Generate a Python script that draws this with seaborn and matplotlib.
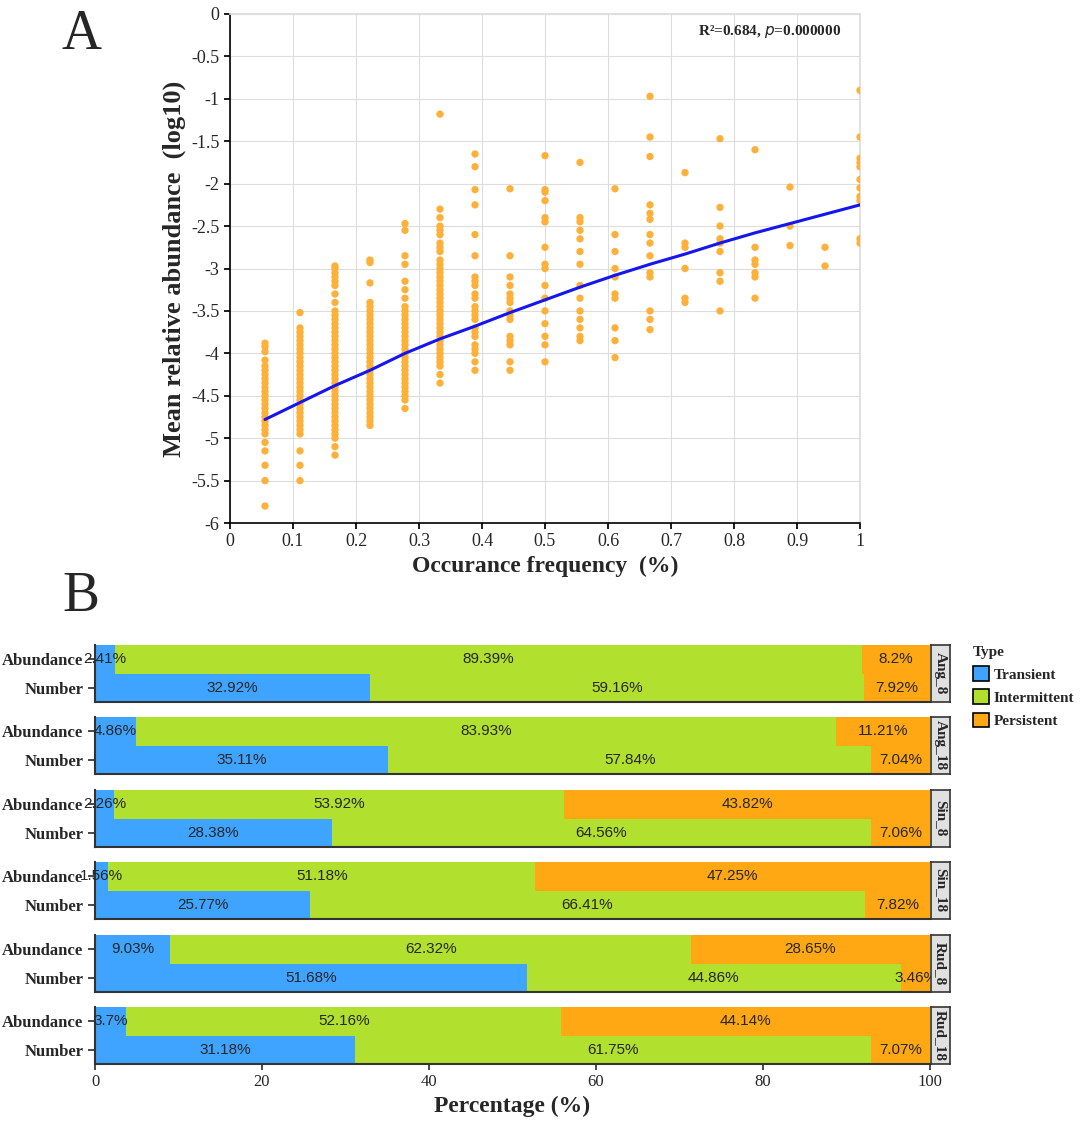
import numpy as np
import pandas as pd
import matplotlib
matplotlib.use("Agg")
import matplotlib.pyplot as plt
import seaborn as sns

# ---------------- Panel A data ----------------
freq_levels = [k / 18 for k in range(1, 19)]
abund_cols = [
    [-3.88,-3.92,-3.98,-4.08,-4.15,-4.2,-4.25,-4.3,-4.35,-4.4,-4.45,-4.5,-4.55,-4.6,-4.65,-4.7,-4.75,-4.8,-4.85,-4.9,-4.95,-5.05,-5.15,-5.32,-5.5,-5.8],
    [-3.52,-3.7,-3.75,-3.8,-3.85,-3.9,-3.95,-4.0,-4.05,-4.1,-4.15,-4.2,-4.25,-4.3,-4.35,-4.4,-4.45,-4.5,-4.55,-4.6,-4.65,-4.7,-4.75,-4.8,-4.85,-4.9,-4.95,-5.15,-5.32,-5.5],
    [-2.97,-3.0,-3.05,-3.1,-3.15,-3.2,-3.3,-3.4,-3.5,-3.55,-3.6,-3.65,-3.7,-3.75,-3.8,-3.85,-3.9,-3.95,-4.0,-4.05,-4.1,-4.15,-4.2,-4.25,-4.3,-4.35,-4.4,-4.45,-4.5,-4.55,-4.6,-4.65,-4.7,-4.75,-4.8,-4.85,-4.9,-4.95,-5.0,-5.1,-5.2],
    [-2.9,-2.93,-3.17,-3.4,-3.45,-3.5,-3.55,-3.6,-3.65,-3.7,-3.75,-3.8,-3.85,-3.9,-3.95,-4.0,-4.05,-4.1,-4.15,-4.2,-4.25,-4.3,-4.35,-4.4,-4.45,-4.5,-4.55,-4.6,-4.65,-4.7,-4.75,-4.8,-4.85],
    [-2.47,-2.55,-2.85,-2.95,-3.15,-3.25,-3.35,-3.45,-3.5,-3.55,-3.6,-3.65,-3.7,-3.75,-3.8,-3.85,-3.9,-3.95,-4.0,-4.05,-4.1,-4.15,-4.2,-4.25,-4.3,-4.35,-4.4,-4.45,-4.5,-4.55,-4.65],
    [-1.18,-2.3,-2.4,-2.5,-2.55,-2.6,-2.7,-2.75,-2.8,-2.9,-2.95,-3.0,-3.05,-3.1,-3.15,-3.2,-3.25,-3.3,-3.35,-3.4,-3.45,-3.5,-3.55,-3.6,-3.65,-3.7,-3.75,-3.8,-3.85,-3.9,-3.95,-4.0,-4.05,-4.1,-4.15,-4.25,-4.35],
    [-1.65,-1.8,-2.07,-2.25,-2.6,-2.85,-3.1,-3.15,-3.2,-3.3,-3.35,-3.45,-3.5,-3.55,-3.6,-3.7,-3.75,-3.8,-3.9,-3.95,-4.0,-4.1,-4.2],
    [-2.06,-2.85,-3.1,-3.2,-3.3,-3.35,-3.4,-3.5,-3.55,-3.6,-3.8,-3.85,-3.9,-4.1,-4.2],
    [-1.67,-2.07,-2.1,-2.2,-2.4,-2.45,-2.75,-2.95,-3.0,-3.2,-3.35,-3.5,-3.65,-3.8,-3.9,-4.1],
    [-1.75,-2.4,-2.45,-2.55,-2.65,-2.8,-2.95,-3.2,-3.35,-3.5,-3.6,-3.7,-3.8,-3.85],
    [-2.06,-2.6,-2.8,-3.0,-3.1,-3.3,-3.35,-3.7,-3.85,-4.05],
    [-0.97,-1.45,-1.68,-2.25,-2.35,-2.42,-2.6,-2.7,-2.85,-3.05,-3.1,-3.5,-3.6,-3.72],
    [-1.87,-2.7,-2.75,-3.0,-3.35,-3.4],
    [-1.47,-2.28,-2.5,-2.65,-2.7,-2.8,-3.05,-3.15,-3.5],
    [-1.6,-2.75,-2.9,-2.95,-3.05,-3.1,-3.35],
    [-2.04,-2.5,-2.73],
    [-2.75,-2.97],
    [-0.9,-1.45,-1.7,-1.75,-1.8,-1.95,-2.05,-2.15,-2.2,-2.65,-2.7],
]
curve_x = freq_levels
curve_y = [-4.78,-4.58,-4.38,-4.2,-4.0,-3.83,-3.68,-3.52,-3.37,-3.22,-3.08,-2.95,-2.83,-2.7,-2.58,-2.47,-2.36,-2.25]

# ---------------- Panel B data ----------------
sites = ["Ang_8", "Ang_18", "Sin_8", "Sin_18", "Rud_8", "Rud_18"]
measures = ["Abundance", "Number"]
transient = [[2.41, 32.92], [4.86, 35.11], [2.26, 28.38], [1.56, 25.77], [9.03, 51.68], [3.7, 31.18]]
intermittent = [[89.39, 59.16], [83.93, 57.84], [53.92, 64.56], [51.18, 66.41], [62.32, 44.86], [52.16, 61.75]]
persistent = [[8.2, 7.92], [11.21, 7.04], [43.82, 7.06], [47.25, 7.82], [28.65, 3.46], [44.14, 7.07]]
types = ["Transient", "Intermittent", "Persistent"]
colors = ["#3FA4FF", "#B2E02E", "#FFA813"]

serif = ["Liberation Serif", "DejaVu Serif"]
sans = ["Liberation Sans", "DejaVu Sans"]

sns.set_theme(style="whitegrid")
plt.rcParams["font.family"] = serif

fig = plt.figure(figsize=(10.82, 11.21), dpi=100)
W, H = 1082, 1121

# Panel A
axA = fig.add_axes([230 / W, 1 - 523 / H, 630 / W, 509 / H])
xs = [f for f, col in zip(freq_levels, abund_cols) for _ in col]
ys = [v for col in abund_cols for v in col]
dfA = pd.DataFrame({"freq": xs, "abund": ys})
sns.scatterplot(data=dfA, x="freq", y="abund", ax=axA, color="#FDB03A",
                s=28, edgecolor="none", zorder=3)
sns.lineplot(x=curve_x, y=curve_y, ax=axA, color="#1515F0", lw=2.2, zorder=4)
axA.set_xlim(0, 1)
axA.set_ylim(-6, 0)
axA.set_xticks(np.arange(0, 1.01, 0.1))
axA.set_xticklabels(["0", "0.1", "0.2", "0.3", "0.4", "0.5", "0.6", "0.7", "0.8", "0.9", "1"])
axA.set_yticks(np.arange(-6, 0.01, 0.5))
axA.set_yticklabels([("%g" % v) if v != 0 else "0" for v in np.arange(-6, 0.01, 0.5)])
axA.tick_params(labelsize=13, length=4, color="black", left=True, bottom=True)
axA.grid(color="#DDDDDD", lw=0.8)
for s in ["top", "right"]:
    axA.spines[s].set_color("#DDDDDD")
for s in ["left", "bottom"]:
    axA.spines[s].set_color("black")
    axA.spines[s].set_linewidth(1.2)
axA.set_xlabel("Occurance frequency  (%)", fontsize=17, fontweight="bold")
axA.set_ylabel("Mean relative abundance  (log10)", fontsize=19, fontweight="bold")
axA.text(0.97, 0.965, r"R²=0.684, $\mathit{p}$=0.000000", transform=axA.transAxes,
         ha="right", va="center", fontsize=11, fontweight="bold")
fig.text(62 / W, 1 - 35 / H, "A", fontsize=40, va="center", ha="left")
fig.text(62 / W, 1 - 597 / H, "B", fontsize=40, va="center", ha="left")

# Panel B
tops = [645, 717, 790, 862, 935, 1007]
hgt = 57
for i, site in enumerate(sites):
    ax = fig.add_axes([95 / W, 1 - (tops[i] + hgt) / H, 835 / W, hgt / H])
    t = np.array(transient[i]); m = np.array(intermittent[i]); p = np.array(persistent[i])
    cum = [t + m + p, t + m, t]
    for c, vals in zip([colors[2], colors[1], colors[0]], cum):
        d = pd.DataFrame({"measure": measures, "val": vals})
        sns.barplot(data=d, x="val", y="measure", order=measures, ax=ax, color=c,
                    width=1.0, orient="h", saturation=1, edgecolor="none", linewidth=0)
    for j in range(2):
        segs = [t[j], m[j], p[j]]
        left = 0
        for v in segs:
            ax.text(left + v / 2, j, "%g%%" % v, ha="center", va="center",
                    fontsize=11, family=sans)
            left += v
    ax.set_xlim(0, 100)
    ax.set_ylim(1.5, -0.5)
    ax.grid(False)
    ax.set_ylabel("")
    ax.set_xlabel("")
    for s in ["top", "right"]:
        ax.spines[s].set_visible(False)
    for s in ["left", "bottom"]:
        ax.spines[s].set_color("#333333")
        ax.spines[s].set_linewidth(1.5)
    ax.tick_params(axis="y", left=True, length=5, color="#333333", labelsize=12)
    for lab in ax.get_yticklabels():
        lab.set_fontweight("bold")
    if i < 5:
        ax.set_xticks([])
    else:
        ax.set_xticks([0, 20, 40, 60, 80, 100])
        ax.tick_params(axis="x", bottom=True, length=4, color="#333333", labelsize=12)
        ax.set_xlabel("Percentage (%)", fontsize=17, fontweight="bold")
    # strip
    sax = fig.add_axes([931 / W, 1 - (tops[i] + hgt) / H, 19 / W, hgt / H])
    sax.set_facecolor("#E0E0E0")
    sax.set_xticks([]); sax.set_yticks([])
    for s in sax.spines.values():
        s.set_visible(True); s.set_color("#333333"); s.set_linewidth(1.2)
    sax.text(0.5, 0.5, site, rotation=-90, ha="center", va="center",
             fontsize=11, fontweight="bold", transform=sax.transAxes)

# legend
from matplotlib.patches import Patch
handles = [Patch(facecolor=c, edgecolor="black", lw=1.2, label=l) for c, l in zip(colors, types)]
fig.legend(handles=handles, title="Type", loc="upper left",
           bbox_to_anchor=(965 / W, 1 - 638 / H), frameon=False,
           prop={"family": serif, "weight": "bold", "size": 11},
           title_fontproperties={"family": serif, "weight": "bold", "size": 11},
           handlelength=1.1, handleheight=1.1, handletextpad=0.3, labelspacing=0.5,
           alignment="left", borderpad=0)

fig.savefig("out.png", dpi=100)
